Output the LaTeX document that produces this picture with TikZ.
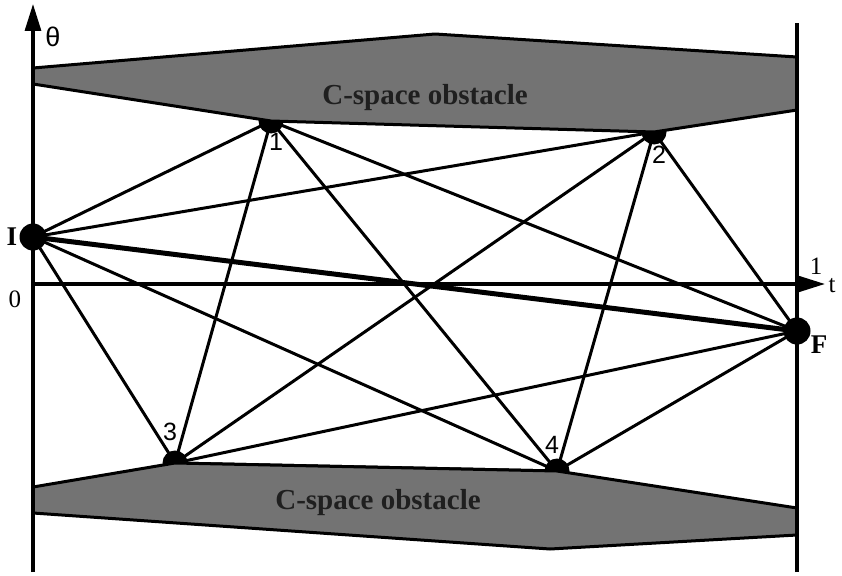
\documentclass[tikz,border=0pt]{standalone}
\usepackage{fontspec}
\setmainfont{Liberation Serif}
\newfontfamily\lsans{Liberation Sans}
\usetikzlibrary{arrows.meta}
\begin{document}
\begin{tikzpicture}[x=1pt,y=-1pt,
  bigdot/.style={circle,fill=black,inner sep=0pt,minimum size=27pt},
  smalldot/.style={circle,fill=black,inner sep=0pt,minimum size=25pt},
  edge/.style={line width=3pt,line cap=round},
  thickedge/.style={line width=5pt,line cap=round},
  obst/.style={fill=black!55,draw=black,line width=3pt,line join=round},
  obsttext/.style={font=\bfseries\fontsize{29}{30}\selectfont,text=black!88},
  axis/.style={line width=3.2pt},
  axisarrow/.style={line width=3.2pt,-{Triangle[length=27pt,width=16pt]}},
  numlabel/.style={font=\lsans\fontsize{25}{26}\selectfont,inner sep=0pt},
  serlabel/.style={font=\fontsize{25}{27}\selectfont,inner sep=0pt},
  boldlabel/.style={font=\bfseries\fontsize{27}{29}\selectfont,inner sep=0pt}]
\useasboundingbox (0,0) rectangle (842,575);
% nodes
\node[bigdot] (I) at (33,237) {};
\node[bigdot] (F) at (797,331) {};
\node[smalldot] (n1) at (271,121) {};
\node[smalldot] (n2) at (654,132) {};
\node[smalldot] (n3) at (175,463) {};
\node[smalldot] (n4) at (557,471) {};
% edges
\draw[edge] (I.center) -- (n1.center);
\draw[edge] (I.center) -- (n2.center);
\draw[edge] (I.center) -- (n3.center);
\draw[edge] (I.center) -- (n4.center);
\draw[thickedge] (I.center) -- (F.center);
\draw[edge] (n1.center) -- (n3.center);
\draw[edge] (n1.center) -- (n4.center);
\draw[edge] (n1.center) -- (F.center);
\draw[edge] (n2.center) -- (n3.center);
\draw[edge] (n2.center) -- (n4.center);
\draw[edge] (n2.center) -- (F.center);
\draw[edge] (n3.center) -- (n4.center);
\draw[edge] (n3.center) -- (F.center);
\draw[edge] (n4.center) -- (F.center);
% obstacles
\draw[obst] (33,68) -- (435,34) -- (797,57) -- (797,110) -- (n2.center) -- (n1.center) -- (33,84) -- cycle;
\draw[obst] (33,487) -- (n3.center) -- (n4.center) -- (797,508) -- (797,535) -- (550,549) -- (33,513) -- cycle;
\node[obsttext] (ot) at (425,98) {C-space obstacle};
\node[obsttext] (ob) at (378,503) {C-space obstacle};
% axes
\coordinate (yb) at (33,572);
\coordinate (yt) at (33,4);
\coordinate (xl) at (33,284);
\coordinate (xr) at (825,284);
\coordinate (rb) at (797,572);
\coordinate (rt) at (797,23);
\draw[axisarrow] (yb) -- (yt);
\draw[axisarrow] (xl) -- (xr);
\draw[axis] (rb) -- (rt);
% labels
\node[font=\lsans\fontsize{27}{29}\selectfont,inner sep=0pt] (th) at (53,37) {θ};
\node[serlabel] (zero) at (15,299) {0};
\node[serlabel] (one) at (816,266) {1};
\node[serlabel] (tt) at (832,286) {t};
\node[boldlabel] (lI) at (12,237) {I};
\node[boldlabel] (lF) at (819,345) {F};
\node[numlabel] (l1) at (276,142) {1};
\node[numlabel] (l2) at (659,155) {2};
\node[numlabel] (l3) at (170,432) {3};
\node[numlabel] (l4) at (552,445) {4};
\end{tikzpicture}
\end{document}
